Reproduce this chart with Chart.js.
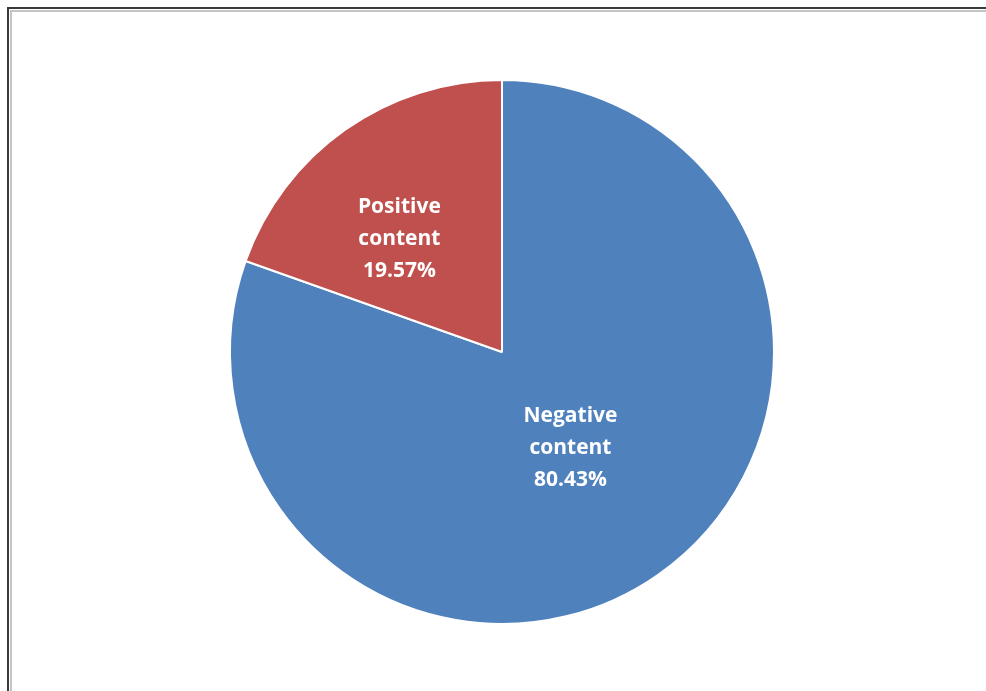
<!DOCTYPE html>
<html>
<head>
<meta charset="utf-8">
<script src="https://cdn.jsdelivr.net/npm/chart.js@4"></script>
<style>
  html, body { margin: 0; padding: 0; background: #fff; overflow: hidden; }
  #frame { position: absolute; left: 7px; top: 7px; width: 1000px; height: 700px;
           border-left: 2px solid #3a3a3a; border-top: 2px solid #3a3a3a; }
  #frame2 { position: absolute; left: 1px; top: 1px; width: 1000px; height: 700px;
            border-left: 2px solid #c4c4c4; border-top: 2px solid #c4c4c4; }
  #wrap { position: absolute; left: 0; top: 0; width: 986px; height: 691px; }
</style>
</head>
<body>
<div id="frame"><div id="frame2"></div></div>
<div id="wrap"><canvas id="pie"></canvas></div>
<script>
// pie data
const categories = ['Negative content', 'Positive content'];
const shares = [80.43, 19.57];
const sliceColors = ['#4f81bd', '#c0504d'];

// label placement: share of the radius along the mid angle, plus a pixel nudge
const labelDepth = [0.43, 0.565];
const labelNudge = [[1, 0], [-14, 13]];

const sliceLabels = {
    id: 'sliceLabels',
    afterDatasetsDraw(chart) {
        const ctx = chart.ctx;
        const meta = chart.getDatasetMeta(0);
        ctx.save();
        ctx.fillStyle = '#ffffff';
        ctx.font = 'bold 21px "Open Sans", Lato, sans-serif';
        ctx.textAlign = 'center';
        ctx.textBaseline = 'middle';
        meta.data.forEach(function (arc, i) {
            const p = arc.getProps(['x', 'y', 'startAngle', 'endAngle', 'outerRadius'], true);
            const mid = (p.startAngle + p.endAngle) / 2;
            const r = p.outerRadius * labelDepth[i];
            const cx = p.x + Math.cos(mid) * r + labelNudge[i][0];
            const cy = p.y + Math.sin(mid) * r + labelNudge[i][1];
            const words = categories[i].split(' ');
            const lines = [words[0], words[1], shares[i].toFixed(2) + '%'];
            lines.forEach(function (t, k) {
                ctx.fillText(t, cx, cy + (k - 1) * 32);
            });
        });
        ctx.restore();
    }
};

new Chart(document.getElementById('pie'), {
    type: 'pie',
    data: {
        labels: categories,
        datasets: [{
            data: shares,
            backgroundColor: sliceColors,
            borderColor: '#ffffff',
            borderWidth: 2
        }]
    },
    options: {
        responsive: true,
        maintainAspectRatio: false,
        animation: false,
        layout: { padding: { left: 18, right: 0, top: 79, bottom: 66 } },
        plugins: {
            legend: { display: false },
            tooltip: { enabled: false }
        }
    },
    plugins: [sliceLabels]
});
</script>
</body>
</html>
